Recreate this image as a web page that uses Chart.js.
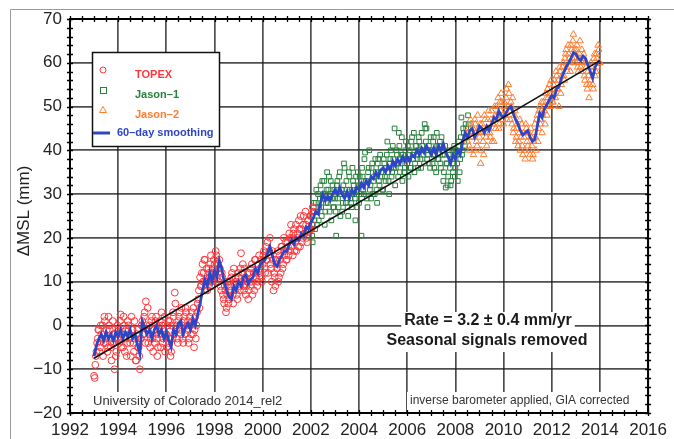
<!DOCTYPE html>
<html><head><meta charset="utf-8">
<script src="https://cdn.jsdelivr.net/npm/chart.js@4.4.1/dist/chart.umd.min.js"></script>
<style>html,body{margin:0;padding:0;background:#fff}canvas{display:block}</style>
</head><body>
<canvas id="c" width="674" height="439"></canvas>
<script>
// ---------- DATA ----------
const xTickLabels = [1992,1994,1996,1998,2000,2002,2004,2006,2008,2010,2012,2014,2016];
const yTickLabels = [-20,-10,0,10,20,30,40,50,60,70];

// sampling: start year and interval (years) for each record (two interleaved passes)
const sampleStep = 0.05;
const topexStartA = 1993.0,  topexStartB = 1993.025;
const jason1StartA = 2002.0, jason1StartB = 2002.025;
const jason2StartA = 2008.5, jason2StartB = 2008.525;
const smoothStart = 1993.0, smoothStep = 0.1;

const topexValsA = [
  -11.5,-9,-6,-3,-1,-5,-2,0,-4,1,-3,-6,2,-1,-5,-4,-2,-10,-7,-3,
  -1,-4,2.5,-2,-5,0,-3,-7,1,-2,-4,2,-1,-6,-3,-8,-1,-5,-10,-3,
  1,-2,3,5.5,-1,-4,0,-3,2,-6,-1,1,-3,-5,0,-2,3,-4,-1,-6,
  -2,0,-4,1,-6,-3,2,7.5,-1,-3,1,3,-2,0,-4,2,4,-1,1,-3,
  0,3,-2,-5,2,0,5,8,11,9,14,12,15,10,8,13,11,16,9,12,
  14,17,11,13,15,9,12,7,5,8,4,10,6,9,11,7,13,8,10,6,
  11,8,16.5,12,9,13,7,10,6,12,9,14,11,8,15,12,10,16,13,11,
  14,17,12,15,19,16,20,13,17,8,11,15,13,10,16,12,18,14,16,19,
  15,18,21,17,20,16,22,19,17,21,24,18,22,20,25,21,23,19,24,22,
  25,23,26
];
const topexValsB = [
  -12,-7,-4,-1,-6,0,-3,-7,2,-4,-1,-5,0,-3,-8,1,-4,-2,-6,0,
  -3,1,-5,-2,2,-6,-1,-4,0,-3,-7,-1,-4,1,-8,-2,-5,-7,-3,0,
  -2,2,-4,0,4,-2,-5,1,-3,-1,-4,2,-7,-2,1,-5,0,-3,2,-2,
  -5,1,-3,-7,0,3,-2,5,0,-4,2,-1,4,-3,1,-2,3,0,-4,2,
  -2,1,4,-1,-3,3,6,4,9,12,10,15,8,13,9,12,14,10,13,15,
  12,16,14,10,13,8,11,6,9,3,7,5,10,8,12,5,9,11,7,12,
  9,13,10,14,8,11,9,12,8,13,10,7,12,15,11,9,14,12,15,10,
  16,13,18,15,12,17,14,10,15,12,9,14,17,11,15,18,13,20,17,15,
  19,16,20,23,18,21,17,23,20,18,22,25,19,23,21,26,20,24,22,25,
  22,27
];
const jason1ValsA = [
  22,20.5,26,24,28,23,30,27,32,25,29,33,26,31,28,34,30,24,32,27,
  29,20.5,33,27,35,30,26,32,36,28,31,25,34,29,27,33,30,24,31,35,
  28,32,20.5,34,30,39.5,33,27,36,31,29,37,33,30,35,28,38,32,36,34,
  31,37,33,39,35,30,38,34,41,36,32,40,37,44,35,39,33,38,36,42,
  37,34,40,36,43,38,35,41,39,36,42,38,44,40,37,45,45,39,41,36,
  40,37,43,39,35,41,38,42,36,40,33,39,31.5,37,34,40,32,38,35,41,
  36,39,33,42,38,47.5,40,44,41,45,43,46
];
const jason1ValsB = [
  25,19,28,22,31,26,24,29,27,33,30,23,28,35,31,26,33,29,27,31,
  26,32,29,34,25,31,28,37,30,33,27,35,31,28,36,32,29,34,27,32,
  34,30,36,31,38,33,29,35,40,32,36,30,34,38,31,37,33,39,35,31,
  38,34,36,42,33,37,40,35,38,45,36,39,34,41,37,43,39,35,40,38,
  41,38,36,42,39,44,37,41,38,43,40,36,41,39,46,42,38,40,37,43,
  38,42,36,40,44,38,41,37,43,39,35,41,37,32,39,36,33,40,37,34,
  40,37,41,35,43,39,45,42,46,44,48
];
const jason2ValsA = [
  42,45,40,46,43,39,47,44,41,45,
  43,37,46,42,48,44,41,47,45,43,49,46,42,48,50,47,45,51,53,48,
  46,50,52,47,55,49,51,46,44,48,42,45,41,44,40,46,39,43,38,45,
  41,44,39,43,38,42,46,40,48,45,50,47,44,51,49,53,48,52,55,50,
  53,51,56,52,57,54,50,58,55,59,57,61,63,58,62,60,64,61,66.5,63,
  60,64,58,62,59,63,61,57,60,55,58,52,56,59,55,61,57,62,59,63,
  60
];
const jason2ValsB = [
  44,41,47,43,45,40,46,42,48,44,
  46,40,44,39,47,43,45,49,44,47,42,46,50,45,48,52,46,49,51,47,
  51,48,54,50,53,47,50,52,45,49,43,46,42,47,43,41,44,40,46,42,
  44,40,45,41,39,44,43,47,42,49,46,51,48,50,46,52,54,50,53,56,
  51,55,53,58,54,56,59,53,57,60,56,62,59,64,61,58,63,65,60,62,
  63,59,61,65,58,60,62,56,59,54,57,55,60,58,54,62,58,61,64,60
];
const smoothVals = [
  -7,-4.5,-3,-2,-3.5,-1.5,-3,-2,-3.5,-1.5,
  -2.5,-1,-3,-1.5,-2.5,-1,-3,-2,-4.5,-6.5,
  1,-0.5,-2,-1,-3,-1,0,-2,-1,-3,
  -1.5,-3.5,-5,-1,-2,0.5,1,-2,-0.5,0.5,
  -1,1.5,0,2.5,5,8,10.5,9,12,10,
  12.5,11,14.8,13,10,8,6.5,6,9,8,
  10,9,11,11.5,9.5,10.5,11,13,12,14,
  14.5,15,16.5,18,16,14,13.5,15,16,17,
  17,18.5,19.5,18.5,20,19.5,21,20.5,22.5,22,
  23.5,24.5,26,25.5,28,30,28.5,29.5,28.5,30,
  31,30,31.5,30,29,30.5,29,31,30,31.5,
  31,32.5,31.5,33,32,34,33.5,35,34,35.5,
  36,35,36.5,35.5,37.5,36.5,38,37,38.5,37.5,
  38.5,37.5,39,38.5,40,39,40.5,39.5,41,40,
  39,40.5,39,41,40,41.5,39.5,38.5,37,39,
  38,40,39,42,44,43,44.5,45,43,44,
  45.5,45,44,45.5,44.5,46,47.5,47,49,48,
  47.5,48.5,49.5,50,48.5,47,46,44.5,43.5,44,
  44.5,43,42,42.5,45.5,48.5,47.5,49.5,50.5,51.5,
  52.5,52,54,54.5,56.5,57.8,59,60,61,62.3,
  62,61,60.5,61.5,61,59.5,58,56.5,59,60,
  60.5
];
const trendYears = [1993, 2014];
const trendVals = [-7.5, 60.5];

// ---------- BUILD ----------
function pts(start, step, vals){ return vals.map((v,i)=>({x:+(start+i*step).toFixed(3), y:v})); }
const FONT = "'Liberation Sans', Arial, Helvetica, sans-serif";
const C_TOPEX = 'rgb(255,55,60)', C_J1 = 'rgb(40,128,60)', C_J2 = 'rgb(255,125,50)', C_SM = 'rgb(45,70,200)';
const minus = v => String(v).replace('-', '\u2212');

const deco = {
  id:'deco',
  beforeDraw(chart){
    const c = chart.ctx;
    c.save();
    c.fillStyle='#fff'; c.fillRect(0,0,chart.width,chart.height);
    c.strokeStyle='#9a9a9a'; c.lineWidth=1;
    c.beginPath(); c.moveTo(10.5,chart.height); c.lineTo(10.5,9.5); c.lineTo(chart.width,9.5); c.stroke();
    c.restore();
  },
  beforeDatasetsDraw(chart){
    const c = chart.ctx, a = chart.chartArea;
    c.save();
    // rate annotation
    c.font = "bold 16px "+FONT;
    const t1='Rate = 3.2 \u00b1 0.4 mm/yr', t2='Seasonal signals removed';
    const w1=c.measureText(t1).width, w2=c.measureText(t2).width;
    c.fillStyle='#fff';
    c.fillRect(488-w1/2-3, 312, w1+6, 18);
    c.fillRect(487-w2/2-3, 330, w2+6, 22);
    c.fillStyle='#1a1a1a'; c.textAlign='center'; c.textBaseline='middle';
    c.fillText(t1, 488, 321);
    c.fillText(t2, 487, 341);
    // bottom notes
    c.font = "13px "+FONT;
    const b1='University of Colorado 2014_rel2';
    const bw1=c.measureText(b1).width;
    c.fillStyle='#fff'; c.fillRect(90, 392, bw1+6, a.bottom-393);
    c.fillStyle='#333'; c.textAlign='left'; c.fillText(b1, 93, 401);
    c.font = "12px "+FONT;
    const b2='inverse barometer applied, GIA corrected';
    const bw2=c.measureText(b2).width;
    c.fillStyle='#fff'; c.fillRect(407, 392, bw2+6, a.bottom-393);
    c.fillStyle='#333'; c.fillText(b2, 410, 401);
    c.restore();
  },
  afterDraw(chart){
    const c = chart.ctx, a = chart.chartArea, xs = chart.scales.x, ys = chart.scales.y;
    c.save();
    c.strokeStyle='#000'; c.lineWidth=1.3;
    c.beginPath();
    for(let v=1992; v<=2016.001; v+=0.5){
      const p = Math.round(xs.getPixelForValue(v))+0.5;
      c.moveTo(p, a.bottom-3); c.lineTo(p, a.bottom+3);
      c.moveTo(p, a.top-3); c.lineTo(p, a.top+3);
    }
    for(let v=-20; v<=70.001; v+=2){
      const p = Math.round(ys.getPixelForValue(v))+0.5;
      c.moveTo(a.left-3, p); c.lineTo(a.left+3, p);
      c.moveTo(a.right-3, p); c.lineTo(a.right+3, p);
    }
    c.stroke();
    c.lineWidth=2;
    c.strokeRect(a.left, a.top, a.right-a.left, a.bottom-a.top);
    // y-axis title
    c.save();
    c.translate(24, 211); c.rotate(-Math.PI/2);
    c.font = "17px "+FONT; c.fillStyle='#222'; c.textAlign='center'; c.textBaseline='middle';
    c.fillText('\u0394MSL (mm)', 0, 0);
    c.restore();
    // legend
    c.fillStyle='#fff'; c.fillRect(92,52,128,95);
    c.strokeStyle='#111'; c.lineWidth=1.5; c.strokeRect(92.5,52.5,127,94);
    c.lineWidth=1;
    c.strokeStyle=C_TOPEX; c.beginPath(); c.arc(103,70,3,0,Math.PI*2); c.stroke();
    c.strokeStyle=C_J1; c.strokeRect(100.5,87.5,6,6);
    c.strokeStyle=C_J2; c.beginPath(); c.moveTo(103,106.5); c.lineTo(106.5,112.5); c.lineTo(99.5,112.5); c.closePath(); c.stroke();
    c.strokeStyle=C_SM; c.lineWidth=3; c.beginPath(); c.moveTo(93,133); c.lineTo(110,133); c.stroke();
    c.font="bold 11px "+FONT; c.textAlign='left'; c.textBaseline='middle';
    c.fillStyle=C_TOPEX; c.fillText('TOPEX',135,75);
    c.fillStyle=C_J1; c.fillText('Jason\u20131',135,95);
    c.fillStyle=C_J2; c.fillText('Jason\u20132',135,115);
    c.fillStyle=C_SM; c.fillText('60\u2013day smoothing',117,133);
    c.restore();
  }
};

function scat(label, data, style, r, color, order){
  return {label, data, pointStyle:style, pointRadius:r, borderWidth:1, borderColor:color, backgroundColor:'rgba(0,0,0,0)', order};
}

new Chart(document.getElementById('c'), {
  type:'scatter',
  data:{datasets:[
    {label:'trend', type:'line', data: trendYears.map((x,i)=>({x, y:trendVals[i]})), borderColor:'#111', borderWidth:1.6, pointRadius:0, order:0},
    {label:'60-day smoothing', type:'line', data: pts(smoothStart, smoothStep, smoothVals), borderColor:C_SM, borderWidth:2.8, pointRadius:0, tension:0, order:1},
    scat('TOPEX', pts(topexStartA, sampleStep, topexValsA), 'circle', 3.4, C_TOPEX, 3),
    scat('TOPEX b', pts(topexStartB, sampleStep, topexValsB), 'circle', 3.4, C_TOPEX, 3),
    scat('Jason-1', pts(jason1StartA, sampleStep, jason1ValsA), 'rect', 3.3, C_J1, 3),
    scat('Jason-1 b', pts(jason1StartB, sampleStep, jason1ValsB), 'rect', 3.3, C_J1, 3),
    scat('Jason-2', pts(jason2StartA, sampleStep, jason2ValsA), 'triangle', 3.8, C_J2, 2),
    scat('Jason-2 b', pts(jason2StartB, sampleStep, jason2ValsB), 'triangle', 3.8, C_J2, 2)
  ]},
  options:{
    responsive:false, animation:false, devicePixelRatio:1,
    layout:{padding:{left:0,right:20,top:19,bottom:0}},
    plugins:{legend:{display:false}, tooltip:{enabled:false}},
    scales:{
      x:{type:'linear', min:xTickLabels[0], max:xTickLabels[xTickLabels.length-1],
         afterBuildTicks(s){ s.ticks = xTickLabels.map(v=>({value:v})); },
         ticks:{callback:v=>String(v), font:{size:17, family:FONT}, color:'#222', padding:7, maxRotation:0, autoSkip:false},
         grid:{color:'rgba(30,30,30,0.78)', lineWidth:1.7, drawTicks:false},
         border:{color:'#000', width:2},
         afterFit(s){ s.height = 26; }},
      y:{type:'linear', min:yTickLabels[0], max:yTickLabels[yTickLabels.length-1],
         afterBuildTicks(s){ s.ticks = yTickLabels.map(v=>({value:v})); },
         ticks:{callback:v=>minus(v), font:{size:17, family:FONT}, color:'#222', padding:8, autoSkip:false},
         grid:{color:'rgba(30,30,30,0.78)', lineWidth:1.7, drawTicks:false},
         border:{color:'#000', width:2},
         afterFit(s){ s.width = 70; }}
    }
  },
  plugins:[deco]
});
</script>
</body></html>
